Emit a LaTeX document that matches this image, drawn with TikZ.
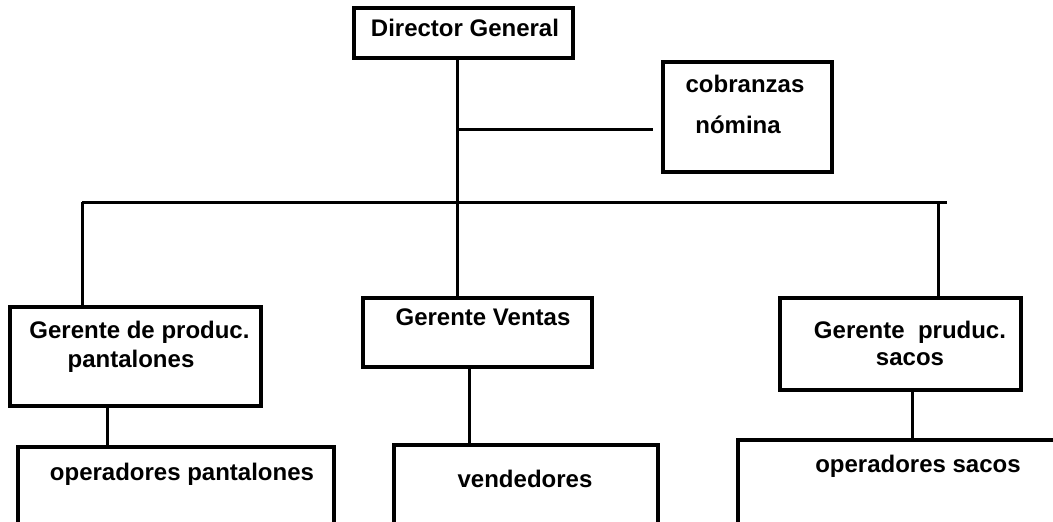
\documentclass[tikz,border=0pt]{standalone}
\usepackage{fontspec}
\setmainfont{Liberation Sans}

\begin{document}
\begin{tikzpicture}[
		x=1pt, y=-1pt,
		every node/.style={inner sep=0pt, outer sep=0pt},
		box/.style={rectangle, draw, line width=3.2pt},
		txt/.style={font=\fontsize{24}{30}\selectfont\bfseries, anchor=base},
		link/.style={line width=3pt}
	]
  \useasboundingbox (0,0) rectangle (1053,522);
  \clip (0,0) rectangle (1053,522);
  % boxes
  \node (dg) [box, minimum width=219pt, minimum height=50pt] at (463.5, 33) {};
  \node (cob) [box, minimum width=169pt, minimum height=110pt] at (747.5, 117) {};
  \node (pant) [box, minimum width=251pt, minimum height=99pt] at (135.5, 356.5) {};
  \node (vent) [box, minimum width=229pt, minimum height=69pt] at (477.5, 332.5) {};
  \node (sac) [box, minimum width=241pt, minimum height=92pt] at (900.5, 344) {};
  \node (op_pant) [box, minimum width=316pt, minimum height=113pt] at (176, 503.5) {};
  \node (vend) [box, minimum width=264pt, minimum height=115pt] at (526, 502.5) {};
  \node (op_sac) [box, minimum width=362pt, minimum height=120pt] at (919, 500) {};
  % texts
  \node (dg_t) [txt] at (465, 36) {Director General};
  \node (cob_t1) [txt] at (745, 92) {cobranzas};
  \node (cob_t2) [txt] at (738, 133) {nómina};
  \node (pant_t1) [txt] at (139.5, 338) {Gerente de produc.};
  \node (pant_t2) [txt] at (131, 367) {pantalones};
  \node (vent_t) [txt] at (483, 325) {Gerente Ventas};
  \node (sac_t1) [txt] at (910, 338) {Gerente\ \ pruduc.};
  \node (sac_t2) [txt] at (910, 365) {sacos};
  \node (op_pant_t) [txt] at (182, 480) {operadores pantalones};
  \node (vend_t) [txt] at (525, 487) {vendedores};
  \node (op_sac_t) [txt] at (918, 472) {operadores sacos};
  % junctions
  \coordinate (bus_l) at (82, 202);
  \coordinate (bus_r) at (947, 202);
  \coordinate (j_mid) at (457, 202);
  \coordinate (j_right) at (938, 202);
  \coordinate (j_cob) at (457, 129);
  \coordinate (cob_end) at (653, 129);
  \coordinate (j_pant) at (107, 406);
  \coordinate (j_vent) at (469, 367);
  \coordinate (j_sac) at (912, 390);
  % connectors
  \draw[link] (dg.south -| j_mid) -- (j_mid);
  \draw[link] (j_cob) -- (cob_end);
  \draw[link] (bus_l) -- (bus_r);
  \draw[link] (bus_l) -- (bus_l |- pant.north);
  \draw[link] (j_mid) -- (j_mid |- vent.north);
  \draw[link] (j_right) -- (j_right |- sac.north);
  \draw[link] (j_pant) -- (j_pant |- op_pant.north);
  \draw[link] (j_vent) -- (j_vent |- vend.north);
  \draw[link] (j_sac) -- (j_sac |- op_sac.north);
\end{tikzpicture}
\end{document}
